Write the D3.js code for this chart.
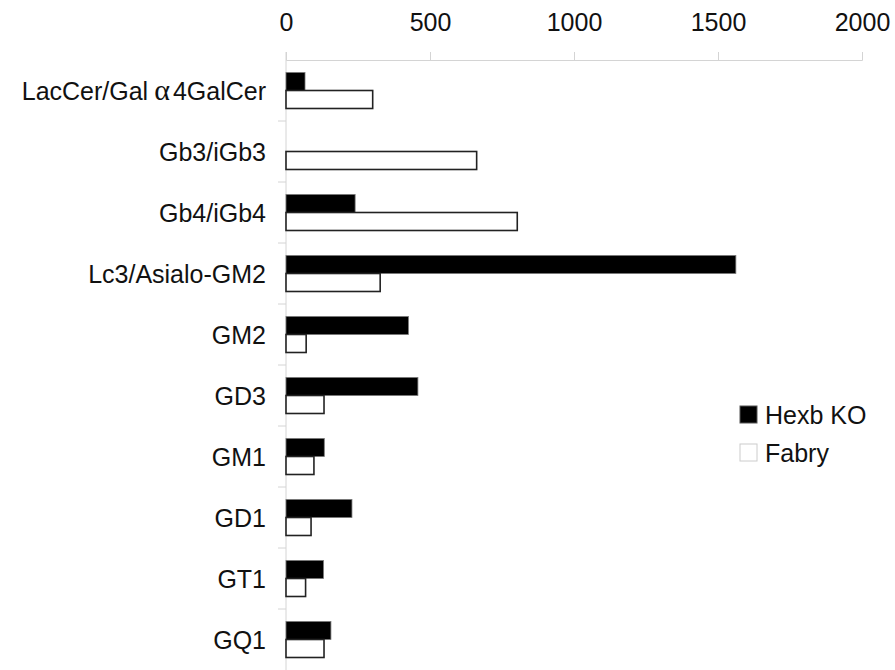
<!DOCTYPE html>
<html>
<head>
<meta charset="utf-8">
<script src="https://cdn.jsdelivr.net/npm/d3@7"></script>
<style>
  body { margin: 0; background: #fff; }
  text { font-family: "Liberation Sans", Arial, sans-serif; fill: #111; }
</style>
</head>
<body>
<div class="chart"></div>
<script>
// glycolipid categories, top to bottom
var categories = ["LacCer/Gal\u03b14GalCer", "Gb3/iGb3", "Gb4/iGb4", "Lc3/Asialo-GM2",
                  "GM2", "GD3", "GM1", "GD1", "GT1", "GQ1"];
var series = ["Hexb KO", "Fabry"];
var hexbKO = [66, 0, 240, 1562, 425, 458, 133, 229, 130, 156];
var fabry  = [301, 662, 803, 327, 70, 132, 97, 87, 68, 132];
var xTicks = [0, 500, 1000, 1500, 2000];

var w = 895, h = 670;
var margin = {top: 60, right: 33, bottom: 0, left: 286};
var fontSize = "25px";

var svg = d3.select(".chart")
            .append("svg")
            .attr("width", w)
            .attr("height", h);

var x = d3.scaleLinear()
          .domain([0, 2000])
          .range([margin.left, w - margin.right]);

var y = d3.scaleBand()
          .domain(categories)
          .range([margin.top, h - margin.bottom])
          .paddingInner(0.41)
          .paddingOuter(0.205);

var ySub = d3.scaleBand()
             .domain(series)
             .range([0, y.bandwidth()]);

var rows = categories.map(function(c, i) {
    return {cat: c, values: [{s: "Hexb KO", v: hexbKO[i]}, {s: "Fabry", v: fabry[i]}]};
});

// top axis
var xAxis = svg.append("g")
    .attr("transform", "translate(0," + margin.top + ")")
    .call(d3.axisTop(x).tickValues(xTicks).tickFormat(d3.format("d")).tickSize(8).tickPadding(21));
xAxis.select(".domain").attr("stroke", "#d4d4d4");
xAxis.selectAll(".tick line").attr("stroke", "#d4d4d4");
xAxis.selectAll(".tick text")
    .attr("font-size", fontSize)
    .style("font-family", "'Liberation Sans', Arial, sans-serif")
    .attr("fill", "#111");

// left axis (category boundaries)
var step = y.step();
svg.append("line")
    .attr("x1", x(0)).attr("x2", x(0))
    .attr("y1", margin.top - 8).attr("y2", h)
    .attr("stroke", "#d4d4d4");

svg.selectAll("line.cattick")
    .data(categories.slice(1))
    .enter()
    .append("line")
    .attr("class", "cattick")
    .attr("x1", x(0) - 8).attr("x2", x(0))
    .attr("y1", function(d) { return y(d) - y.paddingInner() * step / 2; })
    .attr("y2", function(d) { return y(d) - y.paddingInner() * step / 2; })
    .attr("stroke", "#d4d4d4");

var labels = svg.selectAll("text.cat")
    .data(categories)
    .enter()
    .append("text")
    .attr("class", "cat")
    .attr("x", x(0) - 20)
    .attr("y", function(d) { return y(d) + y.bandwidth() / 2; })
    .attr("dy", "0.36em")
    .attr("text-anchor", "end")
    .attr("font-size", fontSize);

// the alpha is set in a serif face with a little room round it
labels.each(function(d) {
    var t = d3.select(this);
    var k = d.indexOf("\u03b1");
    if (k < 0) { t.text(d); return; }
    t.append("tspan").text(d.slice(0, k));
    t.append("tspan").attr("dx", 6)
        .style("font-family", "'Liberation Serif', 'DejaVu Serif', serif")
        .style("font-size", "30px")
        .text("\u03b1");
    t.append("tspan").attr("dx", 3).text(d.slice(k + 1));
});

// bars
var groups = svg.selectAll("g.row")
    .data(rows)
    .enter()
    .append("g")
    .attr("class", "row")
    .attr("transform", function(d) { return "translate(0," + y(d.cat) + ")"; });

groups.selectAll("rect")
    .data(function(d) { return d.values.filter(function(v) { return v.v > 0; }); })
    .enter()
    .append("rect")
    .attr("x", x(0))
    .attr("y", function(d) { return ySub(d.s); })
    .attr("width", function(d) { return x(d.v) - x(0); })
    .attr("height", ySub.bandwidth())
    .attr("fill", function(d) { return d.s == "Hexb KO" ? "#000" : "#fff"; })
    .attr("stroke", function(d) { return d.s == "Hexb KO" ? "#777" : "#222"; })
    .attr("stroke-width", function(d) { return d.s == "Hexb KO" ? 0.8 : 1.6; });

// legend
var legend = svg.append("g")
    .attr("transform", "translate(740,406)");

var li = legend.selectAll("g")
    .data(series)
    .enter()
    .append("g")
    .attr("transform", function(d, i) { return "translate(0," + i * 38 + ")"; });

li.append("rect")
    .attr("width", 17).attr("height", 17)
    .attr("fill", function(d) { return d == "Hexb KO" ? "#000" : "#fff"; })
    .attr("stroke", function(d) { return d == "Hexb KO" ? "#555" : "#ccc"; })
    .attr("stroke-width", 1);

li.append("text")
    .attr("x", 25)
    .attr("y", 8.5)
    .attr("dy", "0.36em")
    .attr("font-size", fontSize)
    .text(function(d) { return d; });
</script>
</body>
</html>
